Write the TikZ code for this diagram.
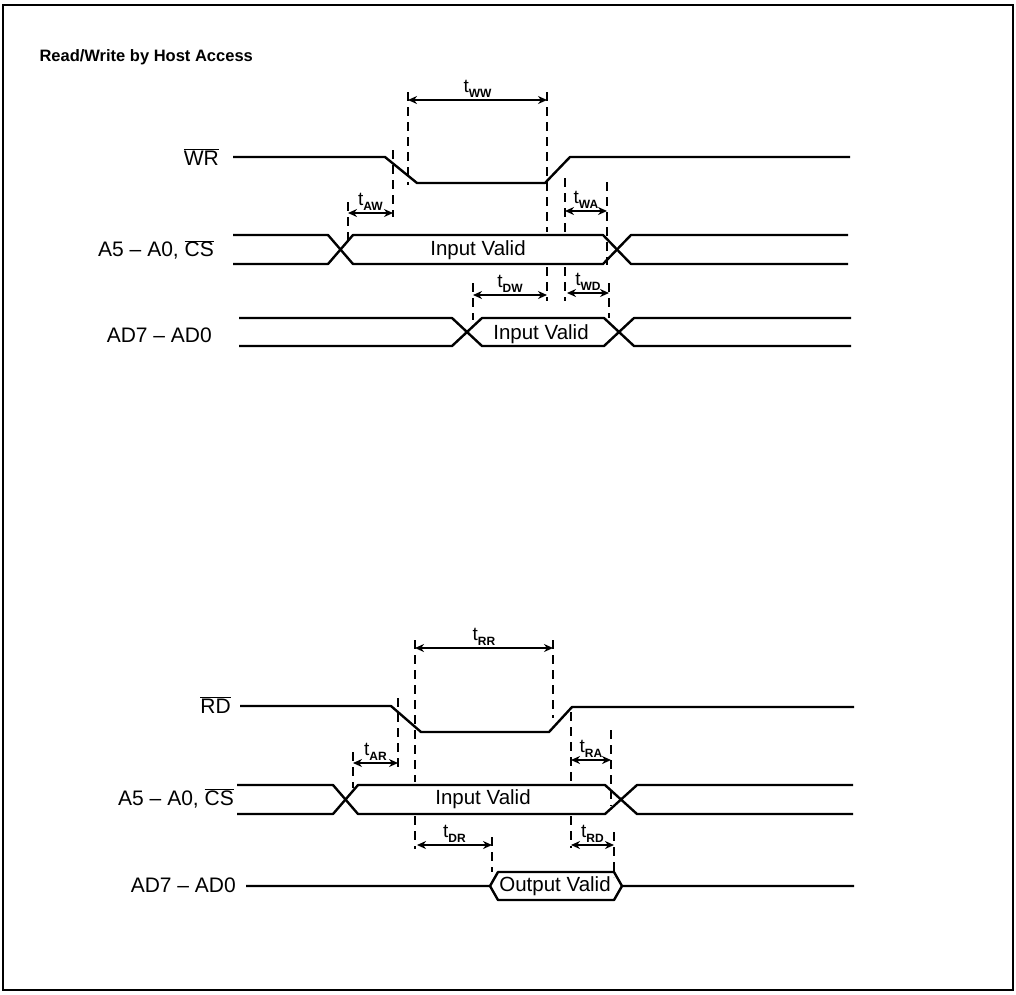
\documentclass[tikz,border=0pt]{standalone}
\usepackage{fontspec}
\setmainfont{Liberation Sans}
\usetikzlibrary{arrows.meta, positioning}

\newcommand{\tdel}[1]{t\raisebox{-0.45ex}{\fontsize{12}{12}\selectfont\bfseries #1}}

\begin{document}
\begin{tikzpicture}[
    x=1pt, y=-1pt,
    signal/.style={line width=2.4pt, line join=round},
    guide/.style={line width=2pt, dash pattern=on 9pt off 6pt},
    arrow/.style={{Stealth[length=9pt,width=8pt]}-{Stealth[length=9pt,width=8pt]}, line width=2pt},
    tlabel/.style={font=\fontsize{19}{19}\selectfont, inner sep=1pt, above=1pt},
    signame/.style={font=\fontsize{21}{21}\selectfont, anchor=east, inner sep=0pt},
    bustext/.style={font=\fontsize{20.5}{21}\selectfont, inner sep=0pt}
]
    \useasboundingbox (0,0) rectangle (1016,994);
    \draw[line width=2.5pt] (3,5) rectangle (1013,990);
    \node[anchor=west, font=\bfseries\fontsize{16.5}{17}\selectfont] (title) at (36,57) {Read/Write by Host Access};

    % Write cycle
    \node[signame] (wr) at (219,157) {$\overline{\mbox{WR}}$};
    \node[signame] (csw) at (214,250) {A5 -- A0, $\overline{\mbox{CS}}$};
    \node[signame] (adw) at (212,335) {AD7 -- AD0};

    \draw[signal] (233,157) -- (385,157) -- (417,183) -- (545,183) -- (570,157) -- (850,157);
    \draw[signal] (233,235) -- (328,235) -- (353,264) -- (603,264) -- (631,235) -- (848,235);
    \draw[signal] (233,264) -- (328,264) -- (353,235) -- (603,235) -- (631,264) -- (848,264);
    \draw[signal] (239,318) -- (452,318) -- (482,346) -- (604,346) -- (634,318) -- (851,318);
    \draw[signal] (239,346) -- (452,346) -- (482,318) -- (604,318) -- (634,346) -- (851,346);
    \node[bustext] (inw) at (478,250) {Input Valid};
    \node[bustext] (dinw) at (541,334) {Input Valid};

    \draw[guide] (393,150) -- (393,217);
    \draw[guide] (408,92) -- (408,185);
    \draw[guide] (547,92) -- (547,232);
    \draw[guide] (547,267) -- (547,301);
    \draw[guide] (565,178) -- (565,232);
    \draw[guide] (565,267) -- (565,301);
    \draw[guide] (607,182) -- (607,265);
    \draw[guide] (609,283) -- (609,318);
    \draw[guide] (348,202) -- (348,243);
    \draw[guide] (473,283) -- (473,320);

    \coordinate (ww-a) at (408,100);
    \coordinate (ww-b) at (547,100);
    \coordinate (aw-a) at (348,213);
    \coordinate (aw-b) at (393,213);
    \coordinate (wa-a) at (565,211);
    \coordinate (wa-b) at (607,211);
    \coordinate (dw-a) at (473,295);
    \coordinate (dw-b) at (547,295);
    \coordinate (wd-a) at (567,293);
    \coordinate (wd-b) at (609,293);
    \draw[arrow] (ww-a) -- node[tlabel] (tww) {\tdel{WW}} (ww-b);
    \draw[arrow] (aw-a) -- node[tlabel] (taw) {\tdel{AW}} (aw-b);
    \draw[arrow] (wa-a) -- node[tlabel] (twa) {\tdel{WA}} (wa-b);
    \draw[arrow] (dw-a) -- node[tlabel] (tdw) {\tdel{DW}} (dw-b);
    \draw[arrow] (wd-a) -- node[tlabel] (twd) {\tdel{WD}} (wd-b);

    % Read cycle
    \node[signame] (rd) at (231,705) {$\overline{\mbox{RD}}$};
    \node[signame] (csr) at (234,798) {A5 -- A0, $\overline{\mbox{CS}}$};
    \node[signame] (adr) at (236,885) {AD7 -- AD0};

    \draw[signal] (240,706) -- (391,706) -- (421,732) -- (549,732) -- (572,707) -- (854,707);
    \draw[signal] (237,785) -- (333,785) -- (358,814) -- (605,814) -- (637,785) -- (853,785);
    \draw[signal] (237,814) -- (333,814) -- (358,785) -- (605,785) -- (637,814) -- (853,814);
    \draw[signal] (246,886) -- (490,886) -- (498,872) -- (614,872) -- (622,886) -- (854,886);
    \draw[signal] (490,886) -- (498,900) -- (614,900) -- (622,886);
    \node[bustext] (inr) at (483,799) {Input Valid};
    \node[bustext] (outr) at (555,886) {Output Valid};

    \draw[guide] (398,698) -- (398,767);
    \draw[guide] (415,640) -- (415,782);
    \draw[guide] (415,816) -- (415,849);
    \draw[guide] (553,640) -- (553,718);
    \draw[guide] (571,712) -- (571,784);
    \draw[guide] (571,816) -- (571,848);
    \draw[guide] (611,730) -- (611,806);
    \draw[guide] (614,832) -- (614,877);
    \draw[guide] (353,752) -- (353,788);
    \draw[guide] (492,837) -- (492,872);

    \coordinate (rr-a) at (415,648);
    \coordinate (rr-b) at (553,648);
    \coordinate (ar-a) at (353,763);
    \coordinate (ar-b) at (398,763);
    \coordinate (ra-a) at (571,760);
    \coordinate (ra-b) at (611,760);
    \coordinate (dr-a) at (417,845);
    \coordinate (dr-b) at (492,845);
    \coordinate (rdd-a) at (571,845);
    \coordinate (rdd-b) at (614,845);
    \draw[arrow] (rr-a) -- node[tlabel] (trr) {\tdel{RR}} (rr-b);
    \draw[arrow] (ar-a) -- node[tlabel] (tar) {\tdel{AR}} (ar-b);
    \draw[arrow] (ra-a) -- node[tlabel] (tra) {\tdel{RA}} (ra-b);
    \draw[arrow] (dr-a) -- node[tlabel] (tdr) {\tdel{DR}} (dr-b);
    \draw[arrow] (rdd-a) -- node[tlabel] (trd) {\tdel{RD}} (rdd-b);
\end{tikzpicture}
\end{document}
